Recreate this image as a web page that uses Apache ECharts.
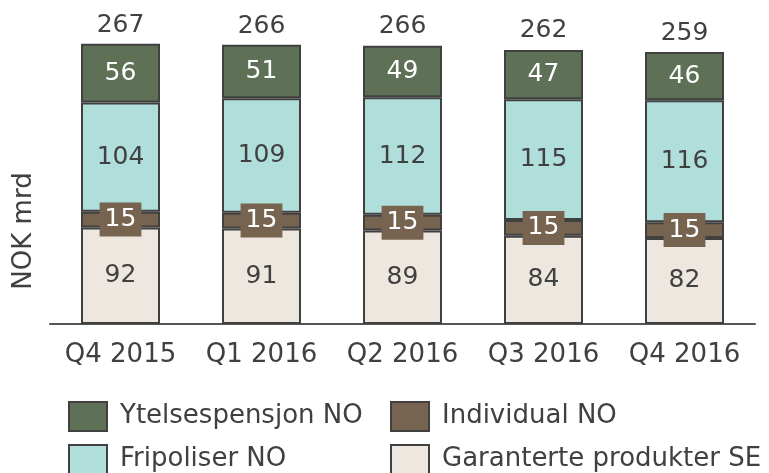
<!DOCTYPE html>
<html>
<head>
<meta charset="utf-8">
<script src="https://cdn.jsdelivr.net/npm/echarts@6/dist/echarts.min.js"></script>
<style>
  html, body { margin: 0; padding: 0; background: #fff; }
  #chart { width: 769px; height: 473px; }
</style>
</head>
<body>
<div id="chart"></div>
<script>
// categories and values (NOK mrd)
const quarters = ["Q4 2015", "Q1 2016", "Q2 2016", "Q3 2016", "Q4 2016"];
const garanterteSE = [92, 91, 89, 84, 82];
const individualNO = [15, 15, 15, 15, 15];
const fripoliserNO = [104, 109, 112, 115, 116];
const ytelsespensjonNO = [56, 51, 49, 47, 46];
const totals = [267, 266, 266, 262, 259];

const font = "DejaVu Sans";
const textColor = "#404040";
const edge = { borderColor: "#404040", borderWidth: 2 };
const barW = 79;

function seg(name, data, color, labelColor, extraLabel) {
  return {
    name: name,
    type: "bar",
    stack: "total",
    barWidth: barW,
    data: data,
    itemStyle: Object.assign({ color: color }, edge),
    label: Object.assign({
      show: true,
      position: "inside",
      color: labelColor,
      fontFamily: font,
      fontSize: 25
    }, extraLabel || {})
  };
}

// one legend box per entry, laid out as a 2x2 grid
function legendItem(name, left, top) {
  return {
    left: left, top: top,
    icon: "rect",
    itemWidth: 38, itemHeight: 29,
    data: [name],
    textStyle: { color: textColor, fontSize: 26, fontFamily: font, padding: [0, 0, 0, 8] }
  };
}

const chart = echarts.init(document.getElementById("chart"));
chart.setOption({
  animation: false,
  textStyle: { fontFamily: font },
  grid: { left: 50, right: 14, top: 9, bottom: 149 },
  xAxis: {
    type: "category",
    data: quarters,
    axisTick: { show: false },
    axisLine: { lineStyle: { color: "#555", width: 2 } },
    axisLabel: { color: textColor, fontSize: 26, fontFamily: font, margin: 18, interval: 0 }
  },
  yAxis: {
    type: "value",
    min: 0,
    max: 300,
    show: false
  },
  legend: [
    legendItem("Ytelsespensjon NO", 63, 396),
    legendItem("Individual NO", 385, 396),
    legendItem("Fripoliser NO", 63, 439),
    legendItem("Garanterte produkter SE", 385, 439)
  ],
  graphic: [
    {
      type: "text",
      x: 24, y: 231,
      rotation: Math.PI / 2,
      style: {
        text: "NOK mrd",
        font: "26px " + font,
        fill: textColor,
        textAlign: "center",
        textVerticalAlign: "middle"
      }
    }
  ],
  series: [
    seg("Garanterte produkter SE", garanterteSE, "#ede7df", textColor),
    seg("Individual NO", individualNO, "#776450", "#fff", {
      backgroundColor: "#776450",
      padding: [5, 5, 4, 5],
      lineHeight: 25
    }),
    seg("Fripoliser NO", fripoliserNO, "#b0dfdb", textColor),
    seg("Ytelsespensjon NO", ytelsespensjonNO, "#5e7055", "#fff"),
    {
      name: "Total",
      type: "bar",
      barWidth: barW,
      barGap: "-100%",
      z: 1,
      silent: true,
      data: totals,
      itemStyle: { color: "rgba(0,0,0,0)" },
      label: {
        show: true,
        position: "top",
        distance: 6,
        color: textColor,
        fontFamily: font,
        fontSize: 25
      }
    }
  ]
});
</script>
</body>
</html>
